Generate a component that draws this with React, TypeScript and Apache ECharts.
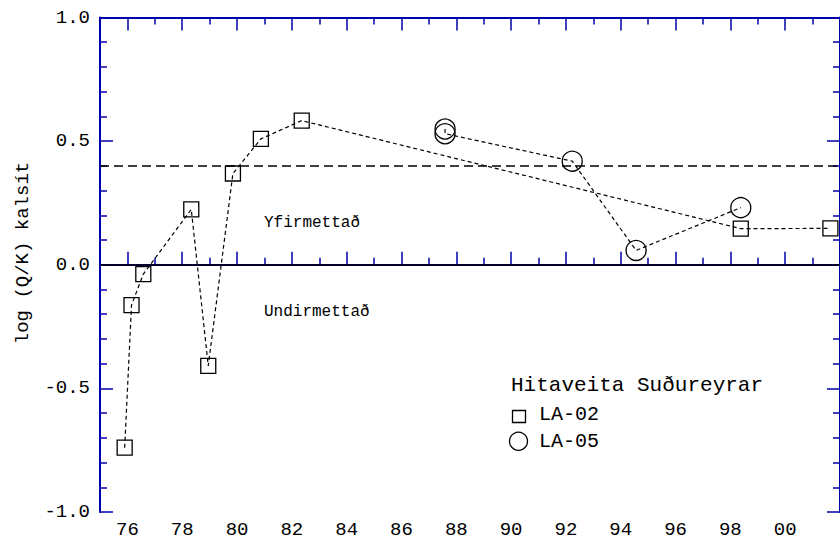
import React, { useEffect, useRef } from "react";
import * as echarts from "echarts";

// LA-02 (squares)
const yearsLA02 = [75.9, 76.15, 76.58, 78.33, 78.95, 79.85, 80.87, 82.36, 98.38, 101.65];
const valuesLA02 = [-0.74, -0.163, -0.038, 0.224, -0.409, 0.369, 0.509, 0.583, 0.146, 0.147];
// LA-05 (circles)
const yearsLA05 = [87.59, 87.59, 92.23, 94.56, 98.38];
const valuesLA05 = [0.549, 0.53, 0.419, 0.058, 0.231];

const xMajorTicks = [76, 78, 80, 82, 84, 86, 88, 90, 92, 94, 96, 98, 100];
const xMinorTicks = [75, 77, 79, 81, 83, 85, 87, 89, 91, 93, 95, 97, 99, 101];
const refLines = [0, 0.4];

const AXIS_BLUE = "#0000aa";
const FONT = "Liberation Mono, DejaVu Sans Mono, monospace";

export default function App() {
  const ref = useRef<HTMLDivElement>(null);
  useEffect(() => {
    if (!ref.current) return;
    const chart = echarts.init(ref.current, null, { renderer: "svg" });
    const baseX = (pos: string, ticks: number[], len: number, showLine: boolean, showLabel: boolean) => ({
      type: "value",
      min: 75,
      max: 102,
      position: pos,
      splitLine: { show: false },
      axisLine: { show: showLine, lineStyle: { color: AXIS_BLUE, width: 2 } },
      axisTick: {
        show: true,
        inside: true,
        length: len,
        customValues: ticks,
        lineStyle: { color: AXIS_BLUE, width: 1.5 },
      },
      axisLabel: {
        show: showLabel,
        customValues: ticks,
        formatter: (v: number) => (v === 100 ? "00" : String(v)),
        margin: 8,
        fontFamily: FONT,
        fontSize: 19,
        color: "#000",
      },
    });
    const baseY = (pos: string, showLabel: boolean) => ({
      type: "value",
      min: -1,
      max: 1,
      interval: 0.5,
      position: pos,
      splitLine: { show: false },
      axisLine: { show: true, lineStyle: { color: AXIS_BLUE, width: 2 } },
      axisTick: { show: true, inside: true, length: 13, lineStyle: { color: AXIS_BLUE, width: 1.5 } },
      minorTick: { show: true, splitNumber: 5, length: 7, lineStyle: { color: AXIS_BLUE, width: 1.5 } },
      axisLabel: {
        show: showLabel,
        formatter: (v: number) => v.toFixed(1),
        margin: 10,
        fontFamily: FONT,
        fontSize: 19,
        color: "#000",
      },
    });
    chart.setOption({
      animation: false,
      backgroundColor: "#fff",
      grid: { left: 100, top: 17.5, right: -2, bottom: 25.3, containLabel: false },
      xAxis: [
        baseX("bottom", xMajorTicks, 13, true, true),
        baseX("bottom", xMinorTicks, 7, false, false),
        baseX("top", xMajorTicks, 13, true, false),
        baseX("top", xMinorTicks, 7, false, false),
      ],
      yAxis: [baseY("left", true), baseY("right", false)],
      series: [
        {
          name: "LA-02",
          type: "line",
          xAxisIndex: 0,
          yAxisIndex: 0,
          data: yearsLA02.map((x, i) => [x, valuesLA02[i]]),
          symbol: "rect",
          symbolSize: 15,
          itemStyle: { color: "transparent", borderColor: "#000", borderWidth: 1.3 },
          lineStyle: { color: "#000", width: 1.2, type: [4, 3] },
          markLine: {
            silent: true,
            symbol: "none",
            label: { show: false },
            data: [
              { yAxis: refLines[0], lineStyle: { color: "#000", width: 1.5, type: "solid" } },
              { yAxis: refLines[1], lineStyle: { color: "#000", width: 1.5, type: [9, 5] } },
            ],
          },
        },
        {
          name: "LA-05",
          type: "line",
          xAxisIndex: 0,
          yAxisIndex: 0,
          data: yearsLA05.map((x, i) => [x, valuesLA05[i]]),
          symbol: "circle",
          symbolSize: 20,
          itemStyle: { color: "transparent", borderColor: "#000", borderWidth: 1.3 },
          lineStyle: { color: "#000", width: 1.2, type: [4, 3] },
        },
      ],
      graphic: [
        {
          type: "text",
          x: 23,
          y: 253,
          rotation: Math.PI / 2,
          style: {
            text: "log (Q/K) kalsít",
            font: `19px ${FONT}`,
            fill: "#000",
            align: "center",
            verticalAlign: "middle",
          },
        },
        {
          type: "text",
          x: 264,
          y: 223,
          style: { text: "Yfirmettað", font: `16px ${FONT}`, fill: "#000", align: "left", verticalAlign: "middle" },
        },
        {
          type: "text",
          x: 264,
          y: 311.5,
          style: { text: "Undirmettað", font: `16px ${FONT}`, fill: "#000", align: "left", verticalAlign: "middle" },
        },
        {
          type: "text",
          x: 511,
          y: 385,
          style: { text: "Hitaveita Suðureyrar", font: `21px ${FONT}`, fill: "#000", align: "left", verticalAlign: "middle" },
        },
        {
          type: "rect",
          shape: { x: 512.5, y: 410.5, width: 13, height: 12 },
          style: { fill: "none", stroke: "#000", lineWidth: 1.3 },
        },
        {
          type: "text",
          x: 539,
          y: 414,
          style: { text: "LA-02", font: `20px ${FONT}`, fill: "#000", align: "left", verticalAlign: "middle" },
        },
        {
          type: "circle",
          shape: { cx: 518.5, cy: 441.3, r: 9 },
          style: { fill: "none", stroke: "#000", lineWidth: 1.3 },
        },
        {
          type: "text",
          x: 539,
          y: 441.5,
          style: { text: "LA-05", font: `20px ${FONT}`, fill: "#000", align: "left", verticalAlign: "middle" },
        },
      ],
    });
    return () => chart.dispose();
  }, []);
  return (
    <div
      ref={ref}
      style={{ position: "fixed", left: 0, top: 0, width: 840, height: 539, background: "#fff" }}
    />
  );
}
